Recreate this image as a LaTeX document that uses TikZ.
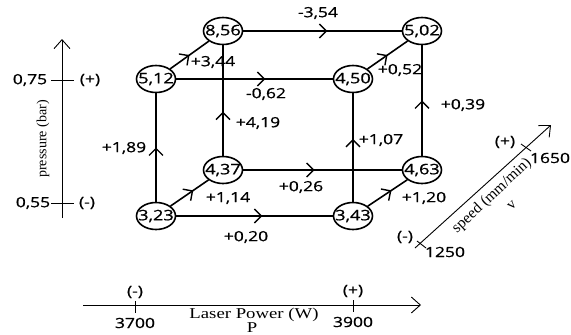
\documentclass[tikz,border=0pt]{standalone}
\usepackage{fontspec}
\setmainfont[FakeStretch=1.25,FakeBold=0.9]{Open Sans}
\newfontfamily\serifA[FakeStretch=1.25]{Liberation Serif}
\newfontfamily\serifB{Liberation Serif}
\usetikzlibrary{shapes.geometric,arrows.meta,decorations.markings}
\tikzset{
  vert/.style={draw, ellipse, line width=1.6pt, minimum width=39pt, minimum height=27pt, inner sep=0pt, font=\fontsize{14.5}{16}\selectfont},
  edge/.style={line width=1.6pt},
  midarrow/.style={postaction={decorate}, decoration={markings, mark=at position #1 with {\arrow[line width=1.4pt]{Straight Barb[length=7pt,width=14pt]}}}},
  lbl/.style={inner sep=0pt, font=\fontsize{14}{16}\selectfont},
  slbl/.style={inner sep=0pt, font=\serifA\fontsize{15}{17}\selectfont},
  axis/.style={line width=0.9pt},
  axarrow/.style={-{Straight Barb[length=9pt,width=16pt,line width=0.9pt]}}
}
\begin{document}
\begin{tikzpicture}[x=1pt,y=-1pt]
\useasboundingbox (0,0) rectangle (571,335);
% cube nodes
\node[vert] (n856) at (223,31) {\makebox[0pt]{8,56}};
\node[vert] (n502) at (422,31) {\makebox[0pt]{5,02}};
\node[vert] (n512) at (156,79) {\makebox[0pt]{5,12}};
\node[vert] (n450) at (353,79) {\makebox[0pt]{4,50}};
\node[vert] (n437) at (223,170) {\makebox[0pt]{4,37}};
\node[vert] (n463) at (422,170) {\makebox[0pt]{4,63}};
\node[vert] (n323) at (156,216) {\makebox[0pt]{3,23}};
\node[vert] (n343) at (353,216) {\makebox[0pt]{3,43}};
% edges
\draw[edge, midarrow=0.55] (n323) -- (n343);
\draw[edge, midarrow=0.6] (n323) -- (n437);
\draw[edge, midarrow=0.5] (n323) -- (n512);
\draw[edge, midarrow=0.45] (n437) -- (n463);
\draw[edge, midarrow=0.4] (n437) -- (n856);
\draw[edge, midarrow=0.57] (n512) -- (n450);
\draw[edge, midarrow=0.5] (n512) -- (n856);
\draw[edge, midarrow=0.53] (n856) -- (n502);
\draw[edge, midarrow=0.58] (n343) -- (n450);
\draw[edge, midarrow=0.6] (n343) -- (n463);
\draw[edge, midarrow=0.5] (n450) -- (n502);
\draw[edge, midarrow=0.5] (n463) -- (n502);
% edge labels
\node[lbl] (l1) at (318,13) {-3,54};
\node[lbl] (l2) at (213,62) {+3,44};
\node[lbl] (l3) at (266,94) {-0,62};
\node[lbl] (l4) at (400,70) {+0,52};
\node[lbl] (l5) at (258,123) {+4,19};
\node[lbl] (l6) at (463,105) {+0,39};
\node[lbl] (l7) at (124,148) {+1,89};
\node[lbl] (l8) at (381,140) {+1,07};
\node[lbl] (l9) at (228,198) {+1,14};
\node[lbl] (l10) at (301,187) {+0,26};
\node[lbl] (l11) at (424,198) {+1,20};
\node[lbl] (l12) at (246,237) {+0,20};
% pressure axis
\coordinate (pb) at (62,218);
\coordinate (pt) at (62,39);
\draw[axis, axarrow] (pb) -- (pt);
\draw[axis] (51,80) -- (74,80);
\draw[axis] (51,203) -- (74,203);
\node[lbl] (p75) at (30,80) {0,75};
\node[lbl] (pplus) at (90,80) {(+)};
\node[lbl] (p55) at (33,203) {0,55};
\node[lbl] (pminus) at (87,203) {(-)};
\node[inner sep=0pt, font=\serifB\fontsize{14}{16}\selectfont, rotate=90] (ptitle) at (43,139) {pressure (bar)};
% laser power axis
\coordinate (lb) at (83,305);
\coordinate (lt) at (421,305);
\draw[axis, axarrow] (lb) -- (lt);
\draw[axis] (135,301) -- (135,313);
\draw[axis] (353,300) -- (353,312);
\node[lbl] (lm) at (135,292) {(-)};
\node[lbl] (l3700) at (135,323) {3700};
\node[lbl] (lp) at (353,291) {(+)};
\node[lbl] (l3900) at (353,322) {3900};
\node[slbl] (ltitle) at (254,315) {Laser Power (W)};
\node[slbl] (lP) at (252,328) {P};
% speed axis
\coordinate (sb) at (415,248);
\coordinate (st) at (551,125);
\draw[axis, axarrow] (sb) -- (st);
\draw[axis] (417,241) -- (426,248);
\draw[axis] (521,144) -- (531,151);
\node[lbl] (sm) at (405,237) {(-)};
\node[lbl] (s1250) at (445,252) {1250};
\node[lbl] (sp) at (505,142) {(+)};
\node[lbl] (s1650) at (550,158) {1650};
\node[inner sep=0pt, font=\serifB\fontsize{15.5}{17}\selectfont, rotate=43] (stitle) at (492,196) {speed (mm/min)};
\node[inner sep=0pt, font=\serifB\fontsize{15}{17}\selectfont, rotate=43] (sv) at (512,205) {v};
\end{tikzpicture}
\end{document}
